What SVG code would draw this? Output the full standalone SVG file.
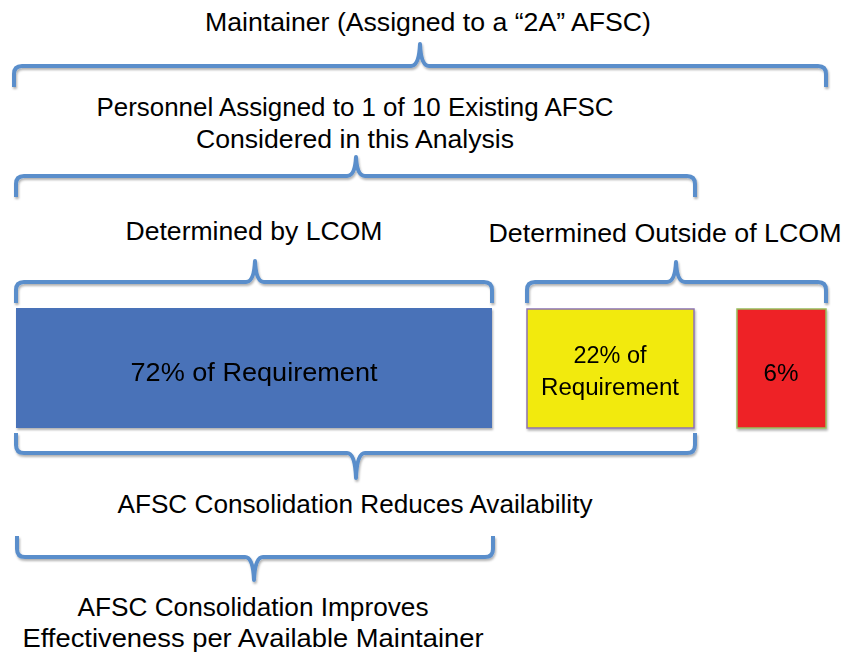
<svg xmlns="http://www.w3.org/2000/svg" width="844" height="653" viewBox="0 0 844 653">
<defs>
<filter id="sh" x="-5%" y="-20%" width="110%" height="150%">
<feDropShadow dx="1" dy="2" stdDeviation="1.2" flood-color="#000" flood-opacity="0.3"/>
</filter>
<style>
.br{fill:none;stroke:#5a8ecb;stroke-width:4;stroke-linejoin:round;stroke-linecap:butt}
text{font-family:"Liberation Sans",Arial,sans-serif;fill:#000;text-anchor:middle;font-size:25.5px}
.box{filter:url(#sh)}
</style>
</defs>
<rect width="844" height="653" fill="#fff"/>
<g id="connectors" filter="url(#sh)">
<path class="br" d="M14,87 L14,74 Q14,66 22,66 L411,66 Q419,66 420,44 Q421,66 429,66 L818,66 Q826,66 826,74 L826,87"/>
<path class="br" d="M16,197 L16,184 Q16,176 24,176 L347,176 Q355,176 356,157 Q357,176 365,176 L687,176 Q695,176 695,184 L695,197"/>
<path class="br" d="M16,303 L16,290 Q16,282 24,282 L246,282 Q254,282 255,261 Q256,282 264,282 L484,282 Q492,282 492,290 L492,303"/>
<path class="br" d="M527,303 L527,290 Q527,282 535,282 L667,282 Q675,282 676,262 Q677,282 685,282 L818,282 Q826,282 826,290 L826,303"/>
<path class="br" d="M16,433 L16,445 Q16,453 24,453 L347,453 Q355,453 356,478 Q357,453 365,453 L687,453 Q695,453 695,445 L695,433"/>
<path class="br" d="M17,536 L17,549 Q17,557 25,557 L245,557 Q253,557 254,580 Q255,557 263,557 L485,557 Q493,557 493,549 L493,536"/>
</g>
<g id="title"><text x="428" y="31" textLength="446" lengthAdjust="spacingAndGlyphs">Maintainer (Assigned to a “2A” AFSC)</text></g>
<g id="personnel">
<text x="355" y="116" textLength="517" lengthAdjust="spacingAndGlyphs">Personnel Assigned to 1 of 10 Existing AFSC</text>
<text x="355" y="148" textLength="318" lengthAdjust="spacingAndGlyphs">Considered in this Analysis</text>
</g>
<g id="lcom"><text x="254" y="240" textLength="257" lengthAdjust="spacingAndGlyphs">Determined by LCOM</text></g>
<g id="outside"><text x="665" y="242" textLength="353" lengthAdjust="spacingAndGlyphs">Determined Outside of LCOM</text></g>
<g id="box72" class="box">
<rect x="16" y="308" width="476" height="120" fill="#4a72b8"/>
<text x="254" y="381" textLength="247" lengthAdjust="spacingAndGlyphs">72% of Requirement</text>
</g>
<g id="box22" class="box">
<rect x="527" y="309" width="167" height="119" fill="#f2ea0a" stroke="#8c72b4" stroke-width="1.5"/>
<text x="610" y="363" textLength="73" lengthAdjust="spacingAndGlyphs" style="font-size:23px">22% of</text>
<text x="610" y="395" textLength="138" lengthAdjust="spacingAndGlyphs" style="font-size:23px">Requirement</text>
</g>
<g id="box6" class="box">
<rect x="737" y="309" width="89" height="119" fill="#ee2228" stroke="#97bd5c" stroke-width="1.5"/>
<text x="781" y="381" textLength="35" lengthAdjust="spacingAndGlyphs" style="font-size:23px">6%</text>
</g>
<g id="reduces"><text x="355" y="513" textLength="475" lengthAdjust="spacingAndGlyphs">AFSC Consolidation Reduces Availability</text></g>
<g id="improves">
<text x="253" y="616" textLength="351" lengthAdjust="spacingAndGlyphs">AFSC Consolidation Improves</text>
<text x="253" y="647" textLength="461" lengthAdjust="spacingAndGlyphs">Effectiveness per Available Maintainer</text>
</g>
</svg>
